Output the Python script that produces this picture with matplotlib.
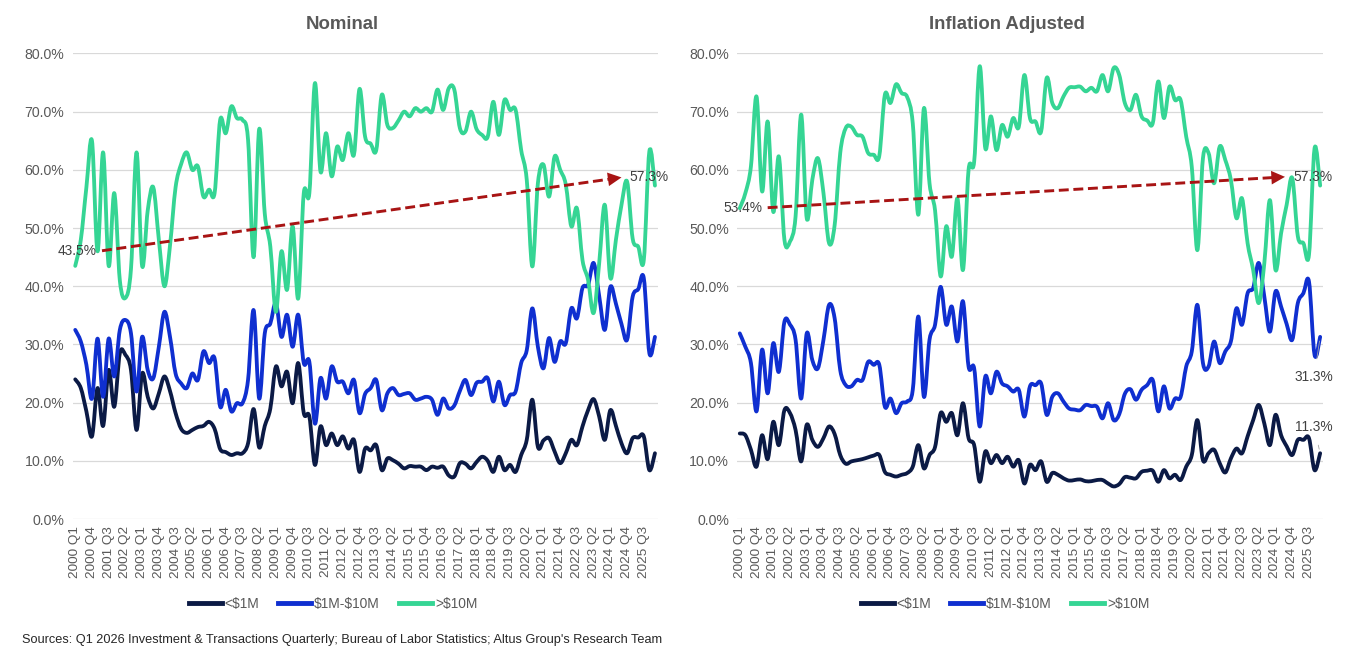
import numpy as np
import matplotlib
matplotlib.use("Agg")
import matplotlib.pyplot as plt
from matplotlib.path import Path
from matplotlib.patches import PathPatch
from matplotlib.lines import Line2D

plt.rcParams['font.family'] = ['Liberation Sans', 'DejaVu Sans']

# quarters 2000 Q1 .. 2026 Q1
quarters = [f"{y} Q{q}" for y in range(2000, 2027) for q in range(1, 5)][:105]

series_names = ["<\\$1M", "\\$1M-\\$10M", ">\\$10M"]
series_colors = ["#0b1a45", "#0f2fd0", "#35d594"]

# Nominal shares (%)
nominal_small = [24, 22.5, 18.5, 14.2, 22.5, 16, 25.6, 19.3, 28.5, 28.2,
                 25.6, 15.3, 25, 21, 19, 21.6, 24.5, 22, 18.2, 15.5,
                 14.8, 15.3, 15.8, 16, 16.7, 15.5, 12, 11.5, 11, 11.3,
                 11.3, 13, 18.9, 12.3, 16, 19, 26.2, 22.8, 25.3, 19.9,
                 26.8, 18.2, 17.6, 9.3, 15.9, 12.7, 14.7, 12.7, 14.2, 12.1,
                 13.6, 8.1, 12.1, 11.8, 12.7, 8.4, 10.4, 10.1, 9.5, 8.7,
                 9.1, 9, 9, 8.4, 9, 8.8, 9, 7.5, 7.3, 9.6,
                 9.5, 8.7, 9.8, 10.7, 10, 8.1, 10.7, 8.4, 9.3, 8.1,
                 11, 13.6, 20.5, 12.4, 13.5, 13.9, 11.6, 9.6, 11.3, 13.6,
                 12.7, 15.9, 18.7, 20.6, 17.6, 13.6, 18.7, 16, 13, 11.3,
                 13.9, 14, 14.2, 8.4, 11.3]
nominal_mid = [32.5, 30.5, 26.5, 20.7, 31, 21, 31, 24.5, 32.5, 34.2,
               31.9, 21.9, 31.3, 25.6, 24.2, 29.6, 35.6, 31.3, 25, 23.3,
               22.5, 25, 23.9, 28.8, 26.8, 27.6, 19.3, 22.2, 18.5, 19.9,
               19.9, 23.9, 35.9, 20.7, 31.9, 33.6, 37.1, 31.3, 35.1, 29.6,
               35.1, 26.8, 27, 16.4, 24.2, 20.7, 26.2, 23.6, 23.6, 21.6,
               23.9, 18.2, 21.5, 22.5, 23.9, 18.7, 21.6, 22.5, 21.3, 21.5,
               21.6, 20.5, 20.7, 21, 20.5, 17.9, 20.7, 19, 19.5, 22,
               23.9, 21.3, 23.4, 23.6, 24.2, 20.2, 23.6, 19.6, 21.3, 21.9,
               26.8, 29, 36.2, 29.6, 25.9, 31.1, 27, 30.5, 30.2, 36.2,
               34.5, 39.7, 40.2, 44, 38.3, 32.5, 39.9, 37, 33.5, 30.8,
               38.2, 39.5, 41.4, 28.5, 31.3]
nominal_large = [43.5, 48, 57, 65, 46, 63, 43.5, 56, 41, 38,
                 43, 63, 43.5, 53, 57, 48, 40, 47, 57, 61,
                 63, 60, 60.6, 55.4, 56.6, 56, 68.6, 66.3, 70.9, 68.9,
                 68.6, 65.2, 45, 67, 52.5, 46.8, 35.6, 46, 39.4, 50.3,
                 37.9, 56, 56, 74.9, 59.7, 66.3, 58.9, 64, 61.7, 66.3,
                 62.6, 73.9, 65.7, 64.5, 63.4, 72.9, 67.7, 67.2, 68.5, 70,
                 69.2, 70.6, 70, 70.6, 70, 73.8, 70.3, 74, 73.8, 67.2,
                 66.6, 70, 67, 66, 65.7, 71.7, 66, 72, 70.3, 70.3,
                 63.4, 58.3, 43.4, 57.7, 60.9, 55.4, 62.3, 60, 57.5, 50.3,
                 53.4, 44.5, 41.1, 35.4, 44, 54, 41.4, 48, 54, 58,
                 48.2, 46.8, 44.5, 63.2, 57.3]

# Inflation adjusted shares (%)
real_small = [14.7, 14.4, 11.9, 9, 14.4, 10.3, 16.7, 12.7, 18.7, 18.2,
              15.3, 9.9, 16.2, 13.6, 12.4, 13.9, 15.9, 14.6, 11, 9.5,
              9.9, 10.1, 10.3, 10.6, 10.9, 11, 8.1, 7.6, 7.3, 7.6,
              7.9, 9, 12.7, 8.7, 11, 12.4, 18.2, 16.7, 18.2, 14.4,
              19.9, 13.9, 12.7, 6.4, 11.6, 9.6, 11, 9.6, 10.7, 9,
              10.1, 6.1, 9.3, 8.4, 9.9, 6.4, 7.9, 7.6, 7, 6.6,
              6.7, 6.8, 6.5, 6.5, 6.7, 6.7, 6.1, 5.6, 6, 7.2,
              7.1, 7, 8.1, 8.3, 8.3, 6.4, 8.4, 7, 7.6, 6.7,
              9, 11, 17, 10.1, 11.3, 11.9, 9.6, 8, 10.4, 12.1,
              11.3, 14.2, 17, 19.6, 16.4, 12.7, 17.9, 14.4, 12.5, 11,
              13.6, 13.6, 13.9, 8.4, 11.3]
real_mid = [31.9, 29.6, 26.8, 18.5, 29.1, 21.6, 30.2, 25.3, 33.9, 33.4,
            30.8, 20.7, 31.9, 27.3, 25.9, 30.8, 36.8, 34.5, 25.6, 23,
            22.8, 23.9, 23.9, 27, 26.5, 26.5, 19.3, 20.7, 18.2, 19.9,
            20.2, 22.2, 34.8, 21, 30.8, 33.4, 39.9, 33.4, 36.5, 30.5,
            37.4, 26.2, 25.9, 15.9, 24.5, 21.6, 25.3, 23.3, 22.8, 21.9,
            22.2, 17.6, 22.8, 23, 23.3, 17.9, 21, 21.6, 20.2, 19,
            18.8, 18.7, 19.6, 19.4, 19.3, 17.3, 19.9, 17, 18, 21.5,
            22.3, 20.5, 22.2, 23, 23.9, 18.5, 22.8, 19, 20.7, 21,
            26.2, 28.8, 36.8, 26.8, 26.2, 30.5, 26.8, 28.8, 30.5, 36.2,
            33.4, 38.8, 39.7, 44, 38.2, 32.2, 39.1, 36.5, 33.5, 30.8,
            37.1, 38.8, 40.8, 28.2, 31.3]
real_large = [53.4, 56, 60.6, 72.6, 56.3, 68.3, 52.8, 62.3, 48, 47.7,
              52, 69.5, 51.7, 58.3, 62, 56, 47.4, 50.5, 62.9, 67.2,
              67.4, 66, 65.7, 62.9, 62.6, 62.4, 72.9, 71.5, 74.7, 73.2,
              72.5, 68, 52.3, 70.6, 57.7, 53, 41.7, 50.3, 45.1, 55.1,
              42.8, 60, 61.4, 77.8, 63.7, 69.2, 63.4, 67.7, 65.7, 68.9,
              67.4, 76.3, 68.9, 68.3, 66.6, 75.8, 71.5, 70.6, 72.6, 74.1,
              74.2, 74.3, 73.5, 74.1, 73.5, 76.3, 73.5, 77.5, 76.3, 71.5,
              70.3, 72.9, 69.2, 68.5, 68, 75.2, 68.9, 74.3, 72, 72,
              65.7, 60.5, 46.2, 62, 62.9, 57.7, 64, 61.7, 58.3, 51.7,
              55.1, 47.4, 42.8, 37.1, 44, 54.8, 42.8, 49.1, 54, 58.6,
              48.6, 47.4, 45.4, 63.7, 57.3]

# dashed trend arrows (start, end) in (quarter index, %)
nominal_trend = [(4.8, 46.1), (98.0, 58.7)]
real_trend = [(5.0, 53.5), (97.7, 58.8)]

GRID = "#d9d9d9"
TXT = "#595959"
TREND = "#a81414"


def smooth_path(x, y):
    # Bezier path through the points, like Excel's smoothed line
    pts = np.column_stack([np.asarray(x, float), np.asarray(y, float)])
    n = len(pts)
    verts = [pts[0]]
    codes = [Path.MOVETO]
    for i in range(n - 1):
        p0 = pts[max(i - 1, 0)]
        p1 = pts[i]
        p2 = pts[i + 1]
        p3 = pts[min(i + 2, n - 1)]
        verts += [p1 + (p2 - p0) / 6, p2 - (p3 - p1) / 6, p2]
        codes += [Path.CURVE4] * 3
    return Path(verts, codes)


def draw_panel(ax, data, trend, title_x, title):
    x = np.arange(len(quarters))
    for vals, c in zip(data, series_colors):
        ax.add_patch(PathPatch(smooth_path(x, vals), facecolor="none", edgecolor=c,
                               lw=2.75, capstyle="round", joinstyle="round", zorder=3))
    ax.set_xlim(-0.45, len(quarters) - 0.45)
    ax.set_ylim(0, 80)
    ax.set_yticks(range(0, 81, 10))
    ax.set_yticklabels([f"{v:.1f}%" for v in range(0, 81, 10)])
    ax.set_xticks(x[::3])
    ax.set_xticklabels(quarters[::3], rotation=90)
    ax.tick_params(length=0, labelsize=9.7, colors=TXT)
    ax.tick_params(axis="y", pad=6, labelsize=10.2)
    ax.tick_params(axis="x", pad=5)
    for s in ax.spines.values():
        s.set_visible(False)
    ax.grid(axis="y", color=GRID, lw=0.9)
    ax.set_axisbelow(True)

    (x0, y0), (x1, y1) = trend
    ax.plot([x0, x1 - 1.0], [y0, y1 - 1.0 * (y1 - y0) / (x1 - x0)], color=TREND, lw=2.1,
            ls=(0, (3.4, 1.6)), zorder=5, solid_capstyle="butt")
    ax.annotate("", xy=(x1, y1), xytext=(x1 - 2.5, y1 - 2.5 * (y1 - y0) / (x1 - x0)),
                arrowprops=dict(arrowstyle="-|>,head_length=0.7,head_width=0.35", color=TREND,
                                lw=0, shrinkA=0, shrinkB=0, mutation_scale=14), zorder=6)
    large = data[2]
    ax.annotate(f"{large[0]:.1f}%", xy=(x0, y0), xytext=(-5, 0), textcoords="offset pixels",
                ha="right", va="center", fontsize=9.9, color="#404040", zorder=6)
    ax.annotate(f"{large[-1]:.1f}%", xy=(x1, y1), xytext=(8, 0), textcoords="offset pixels",
                ha="left", va="center", fontsize=9.9, color="#404040", zorder=6)

    fig.text(title_x, 0.963, title, ha="center", va="center", fontsize=13.4,
             fontweight="bold", color=TXT)


fig = plt.figure(figsize=(13.57, 6.66), dpi=100)
ax1 = fig.add_axes([0.0536, 0.2207, 0.4313, 0.699])
ax2 = fig.add_axes([0.5433, 0.2207, 0.4318, 0.699])

draw_panel(ax1, [nominal_small, nominal_mid, nominal_large], nominal_trend, 342 / 1357, "Nominal")
draw_panel(ax2, [real_small, real_mid, real_large], real_trend, 1007 / 1357, "Inflation Adjusted")

# end labels for the inflation adjusted smaller buckets
last = len(quarters) - 1
ax2.annotate(f"{real_mid[-1]:.1f}%", xy=(last, real_mid[-1]), xytext=(-6, -40),
             textcoords="offset pixels", ha="center", va="center", fontsize=9.9, color="#404040",
             arrowprops=dict(arrowstyle="-", color="#a6a6a6", lw=0.6, shrinkA=6, shrinkB=3))
ax2.annotate(f"{real_small[-1]:.1f}%", xy=(last, real_small[-1]), xytext=(-6, 26),
             textcoords="offset pixels", ha="center", va="center", fontsize=9.9, color="#404040",
             arrowprops=dict(arrowstyle="-", color="#a6a6a6", lw=0.6, shrinkA=6, shrinkB=3))

handles = [Line2D([], [], color=c, lw=3.5) for c in series_colors]
for cx in (333 / 1357, 1005 / 1357):
    fig.legend(handles, series_names, loc="center", bbox_to_anchor=(cx, 0.093), ncol=3,
               frameon=False, fontsize=9.9, handlelength=2.4, handletextpad=0.2,
               columnspacing=1.4, labelcolor=TXT)

fig.text(22 / 1357, 1 - 640 / 666, "Sources: Q1 2026 Investment & Transactions Quarterly; "
         "Bureau of Labor Statistics; Altus Group's Research Team",
         ha="left", va="center", fontsize=9.2, color="#262626")

fig.savefig("out.png", dpi=100)
